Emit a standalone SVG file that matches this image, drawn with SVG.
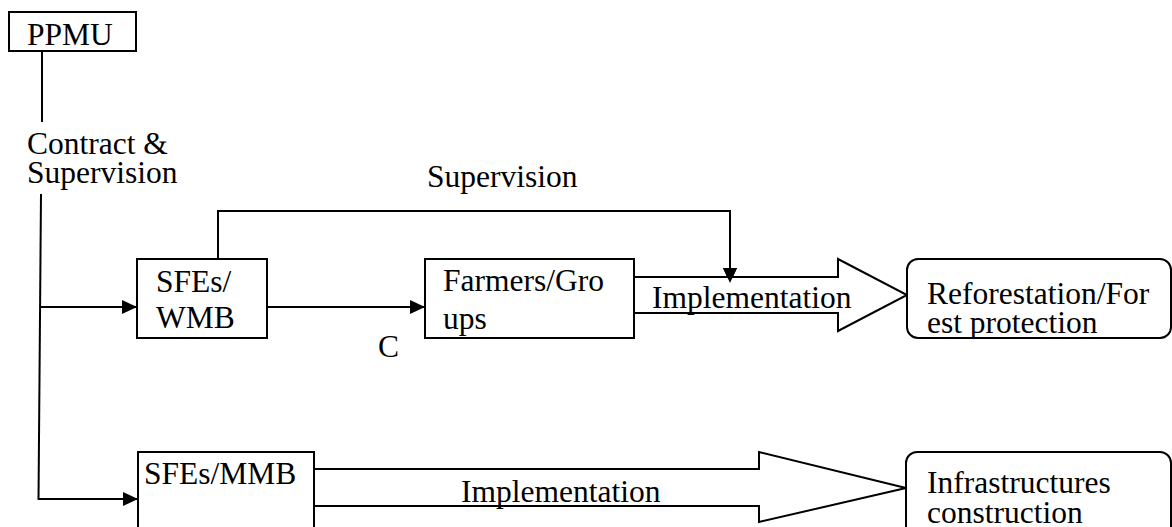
<svg xmlns="http://www.w3.org/2000/svg" width="1172" height="527" viewBox="0 0 1172 527">
  <style>
    .box { fill: #fff; stroke: #000; stroke-width: 2; }
    .line { fill: none; stroke: #000; stroke-width: 2; }
    .block { fill: #fff; stroke: #000; stroke-width: 2; stroke-linejoin: miter; }
    text { font-family: 'Liberation Serif', 'Times New Roman', 'DejaVu Serif', serif; font-size: 31.5px; fill: #000; }
  </style>
  <defs>
    <marker id="arrow" markerUnits="userSpaceOnUse" markerWidth="16" markerHeight="14" refX="15" refY="7" orient="auto">
      <path d="M0,0 L15,7 L0,14 Z" fill="#000"/>
    </marker>
    <clipPath id="clip-refor">
      <rect x="908" y="260" width="264" height="77"/>
    </clipPath>
  </defs>

  <rect width="1172" height="527" fill="#fff"/>

  <!-- connectors -->
  <g id="connectors">
    <line class="line" x1="42" y1="51" x2="42" y2="122"/>
    <line class="line" x1="41" y1="194" x2="38.5" y2="500"/>
    <line class="line" x1="41" y1="307" x2="137" y2="307" marker-end="url(#arrow)"/>
    <line class="line" x1="38.5" y1="499" x2="138" y2="499" marker-end="url(#arrow)"/>
    <line class="line" x1="267" y1="307" x2="425" y2="307" marker-end="url(#arrow)"/>
    <polyline class="line" points="218,259 218,211 730,211 730,283" marker-end="url(#arrow)"/>
    <!-- implementation block arrows -->
    <polygon class="block" points="634,277 838,277 838,259 907,295 838,331 838,313 634,313"/>
    <polygon class="block" points="314,469 759,469 759,452 906,488 759,522 759,506 314,506"/>
    <!-- supervision arrowhead drawn again on top of the block arrow -->
    <path d="M723,268 L737,268 L730,283 Z" fill="#000"/>
    <text x="427" y="187" font-family="Liberation Serif, serif">Supervision</text>
    <text x="378" y="357" font-family="Liberation Serif, serif">C</text>
    <text x="652" y="308" font-family="Liberation Serif, serif">Implementation</text>
    <text x="461" y="502" font-family="Liberation Serif, serif">Implementation</text>
    <text x="27" y="154" font-family="Liberation Serif, serif">Contract &amp;</text>
    <text x="27" y="183" font-family="Liberation Serif, serif">Supervision</text>
  </g>

  <g id="ppmu">
    <rect class="box" x="9" y="12" width="127" height="39"/>
    <text x="27" y="45">PPMU</text>
  </g>

  <g id="sfes-wmb">
    <rect class="box" x="137" y="259" width="130" height="79"/>
    <text x="156" y="292">SFEs/</text>
    <text x="156" y="328">WMB</text>
  </g>

  <g id="farmers">
    <rect class="box" x="425" y="259" width="209" height="79"/>
    <text x="443" y="291">Farmers/Gro</text>
    <text x="443" y="329">ups</text>
  </g>

  <g id="reforestation">
    <rect class="box" x="907" y="259" width="264" height="79" rx="11"/>
    <g clip-path="url(#clip-refor)">
      <text x="927" y="304">Reforestation/For</text>
      <text x="927" y="333">est protection</text>
    </g>
  </g>

  <g id="sfes-mmb">
    <rect class="box" x="138" y="452" width="176" height="90"/>
    <text x="144" y="484">SFEs/MMB</text>
  </g>

  <g id="infrastructures">
    <rect class="box" x="906" y="452" width="265" height="90" rx="11"/>
    <text x="927" y="493">Infrastructures</text>
    <text x="927" y="523">construction</text>
  </g>
</svg>
